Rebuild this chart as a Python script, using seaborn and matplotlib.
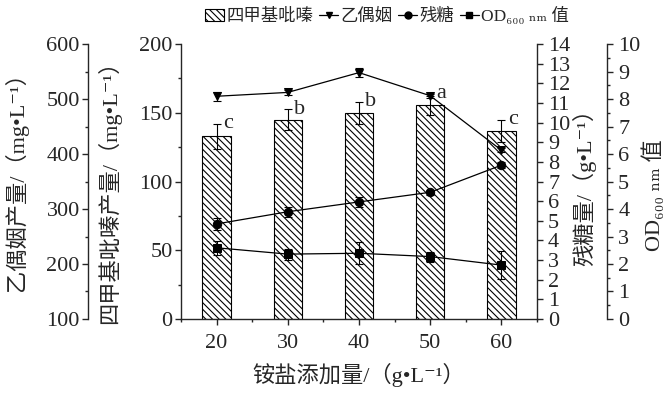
import numpy as np
import pandas as pd
import matplotlib
matplotlib.use('Agg')
import matplotlib.pyplot as plt
import seaborn as sns
from matplotlib.lines import Line2D
from matplotlib.patches import Patch
from matplotlib.ticker import MultipleLocator

# ammonium salt dose (g/L)
nh4 = [20, 30, 40, 50, 60]
# tetramethylpyrazine (mg/L), bars
tmp = [133, 145, 150, 155.4, 137]
tmp_err = [9, 7.5, 8, 7, 8]
tmp_sig = ['c', 'b', 'b', 'a', 'c']
# acetoin (mg/L)
acetoin = [505, 512, 548, 506, 407]
acetoin_err = [8, 5, 8, 4, 4]
# residual sugar (g/L)
sugar = [4.84, 5.46, 5.96, 6.45, 7.83]
sugar_err = [0.32, 0.25, 0.25, 0.12, 0.15]
# OD600
od = [2.59, 2.36, 2.39, 2.27, 1.96]
od_err = [0.25, 0.2, 0.4, 0.18, 0.5]

df = pd.DataFrame({'nh4': nh4, 'tmp': tmp, 'acetoin': acetoin, 'sugar': sugar, 'od': od})

sns.set_style('ticks')
plt.rcParams['font.family'] = ['Liberation Serif', 'DejaVu Serif', 'Noto Sans CJK SC']
plt.rcParams['hatch.linewidth'] = 0.8
plt.rcParams['axes.linewidth'] = 1.0
plt.rcParams['xtick.direction'] = 'out'
plt.rcParams['ytick.direction'] = 'out'

HATCH = '\\\\\\\\\\'
FS = 16
OD_LABEL = 'OD₆₀₀ ₙₘ 值'

fig = plt.figure(figsize=(6.7, 3.93), dpi=100)
ax = fig.add_axes([0.2701, 0.1883, 0.5313, 0.6997])

sns.barplot(data=df, x='nh4', y='tmp', native_scale=True, width=0.4, color='white',
            saturation=1, edgecolor='black', linewidth=0.8, hatch=HATCH,
            errorbar=None, ax=ax)
ax.errorbar(nh4, tmp, yerr=tmp_err, fmt='none', ecolor='k', elinewidth=0.8, capsize=3, capthick=0.8)
for x, y, e, s in zip(nh4, tmp, tmp_err, tmp_sig):
    ax.text(x + 0.9, y + e + (1.5 if s == 'a' else 0), s, ha='left', va='center', fontsize=FS)

ax.set_xlim(15, 65)
ax.set_ylim(0, 200)
ax.set_xticks(nh4)
ax.set_xticklabels([str(v) for v in nh4])
ax.xaxis.set_minor_locator(MultipleLocator(5))
ax.yaxis.set_major_locator(MultipleLocator(50))
ax.yaxis.set_minor_locator(MultipleLocator(25))
ax.spines['top'].set_visible(False)
ax.spines['right'].set_visible(False)
ax.set_xlabel('铵盐添加量/（g•L⁻¹）', fontsize=FS, labelpad=7)
ax.set_ylabel('四甲基吡嗪产量/（mg•L⁻¹）', fontsize=FS)
ax.yaxis.set_label_coords(-0.168, 0.48)

# acetoin, outer left axis
ax_ac = ax.twinx()
sns.lineplot(data=df, x='nh4', y='acetoin', color='k', marker='v', markersize=6,
             markeredgecolor='k', linewidth=0.9, ax=ax_ac)
ax_ac.errorbar(nh4, acetoin, yerr=acetoin_err, fmt='none', ecolor='k', elinewidth=0.8, capsize=3, capthick=0.8)
ax_ac.set_ylim(100, 600)
ax_ac.yaxis.set_major_locator(MultipleLocator(100))
ax_ac.yaxis.set_minor_locator(MultipleLocator(50))
ax_ac.yaxis.set_ticks_position('left')
ax_ac.yaxis.set_label_position('left')
ax_ac.spines['left'].set_position(('axes', -0.261))
ax_ac.spines['left'].set_visible(True)
for s in ['top', 'right', 'bottom']:
    ax_ac.spines[s].set_visible(False)
ax_ac.set_xlabel('')
ax_ac.set_ylabel('乙偶姻产量/（mg•L⁻¹）', fontsize=FS)
ax_ac.yaxis.set_label_coords(-0.43, 0.52)

# residual sugar, right axis
ax_su = ax.twinx()
sns.lineplot(data=df, x='nh4', y='sugar', color='k', marker='o', markersize=6,
             markeredgecolor='k', linewidth=0.9, ax=ax_su)
ax_su.errorbar(nh4, sugar, yerr=sugar_err, fmt='none', ecolor='k', elinewidth=0.8, capsize=3, capthick=0.8)
ax_su.set_ylim(0, 14)
ax_su.yaxis.set_major_locator(MultipleLocator(1))
for s in ['top', 'left', 'bottom']:
    ax_su.spines[s].set_visible(False)
ax_su.set_xlabel('')
ax_su.set_ylabel('残糖量/（g•L⁻¹）', fontsize=FS)
ax_su.yaxis.set_label_coords(1.1, 0.5)

# OD600, outer right axis
ax_od = ax.twinx()
sns.lineplot(data=df, x='nh4', y='od', color='k', marker='s', markersize=5.5,
             markeredgecolor='k', linewidth=0.9, ax=ax_od)
ax_od.errorbar(nh4, od, yerr=od_err, fmt='none', ecolor='k', elinewidth=0.8, capsize=3, capthick=0.8)
ax_od.set_ylim(0, 10)
ax_od.yaxis.set_major_locator(MultipleLocator(1))
ax_od.yaxis.set_minor_locator(MultipleLocator(0.5))
ax_od.spines['right'].set_position(('axes', 1.197))
for s in ['top', 'left', 'bottom']:
    ax_od.spines[s].set_visible(False)
ax_od.set_xlabel('')
ax_od.set_ylabel(OD_LABEL, fontsize=FS)
ax_od.yaxis.set_label_coords(1.297, 0.45)

for a in [ax, ax_ac, ax_su, ax_od]:
    a.set_xlim(15, 65)
    a.tick_params(which='major', length=4, width=1, labelsize=FS, pad=2)
    a.tick_params(which='minor', length=2, width=1)
ax.tick_params(axis='x', which='major', pad=7)
ax_su.tick_params(axis='y', pad=4)
ax_od.tick_params(axis='y', pad=4)

handles = [
    Patch(facecolor='white', edgecolor='k', hatch=HATCH, linewidth=0.8),
    Line2D([], [], color='k', marker='v', markersize=5, linewidth=0.9),
    Line2D([], [], color='k', marker='o', markersize=5, linewidth=0.9),
    Line2D([], [], color='k', marker='s', markersize=4.5, linewidth=0.9),
]
labels = ['四甲基吡嗪', '乙偶姻', '残糖', OD_LABEL]
fig.legend(handles, labels, loc='upper center', bbox_to_anchor=(0.578, 1.005), ncol=4,
           frameon=False, fontsize=12.5, handlelength=1.1, handletextpad=0.15,
           columnspacing=0.3, borderaxespad=0.1)

fig.savefig('out.png', dpi=100)
